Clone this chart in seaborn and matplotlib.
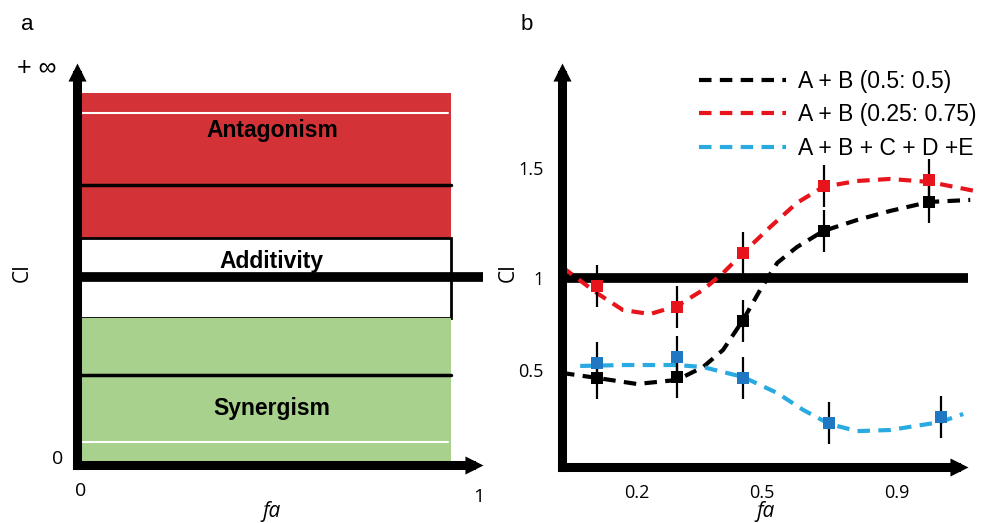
import numpy as np
import pandas as pd
import matplotlib.pyplot as plt
import seaborn as sns

# ---- panel a: CI zones (y in 0..1 schematic units, top = +inf)
zone_names = ['Antagonism', 'Additivity', 'Synergism']
zone_bottom = [0.565, 0.366, 0.005]
zone_top = [0.925, 0.565, 0.366]
zone_colors = ['#d33336', 'white', '#a8d18d']
zone_label_y = [0.833, 0.505, 0.14]
zone_right = 0.92
white_lines = [0.876, 0.057]
black_lines = [0.697, 0.224]
additive_line = 0.468

# ---- panel b: CI vs fa
series = ['A + B (0.5: 0.5)', 'A + B (0.25: 0.75)', 'A + B + C + D +E']
line_colors = ['black', '#e8141c', '#29abe2']
marker_colors = ['black', '#e8141c', '#1f78c1']

pt_fa = [[0.094, 0.31, 0.488, 0.706, 0.989],
         [0.094, 0.31, 0.488, 0.706, 0.989],
         [0.094, 0.31, 0.488, 0.72, 1.02]]
pt_ci = [[0.457, 0.462, 0.766, 1.255, 1.413],
         [0.957, 0.842, 1.136, 1.50, 1.533],
         [0.538, 0.571, 0.457, 0.212, 0.245]]
pt_err = 0.115

curve_fa = [[0, 0.094, 0.202, 0.31, 0.38, 0.434, 0.488, 0.534, 0.58, 0.633, 0.704, 0.795, 0.884, 0.989, 1.1],
            [0, 0.094, 0.164, 0.237, 0.31, 0.38, 0.434, 0.488, 0.561, 0.633, 0.704, 0.795, 0.884, 0.989, 1.127],
            [0.049, 0.164, 0.31, 0.38, 0.488, 0.58, 0.65, 0.72, 0.795, 0.884, 1.019, 1.081]]
curve_ci = [[0.484, 0.457, 0.424, 0.446, 0.516, 0.609, 0.772, 0.935, 1.082, 1.168, 1.255, 1.315, 1.364, 1.413, 1.424],
            [1.06, 0.918, 0.826, 0.804, 0.848, 0.935, 1.027, 1.136, 1.277, 1.408, 1.495, 1.527, 1.538, 1.522, 1.467],
            [0.522, 0.527, 0.527, 0.516, 0.462, 0.375, 0.283, 0.207, 0.168, 0.174, 0.217, 0.261]]

xtick_pos = [0.202, 0.539, 0.903]
xtick_labels = ['0.2', '0.5', '0.9']
ytick_pos = [0.5, 1.0, 1.6]
ytick_labels = ['0.5', '1', '1.5']

sns.set_style('white')
plt.rcParams['font.family'] = ['Liberation Sans', 'DejaVu Sans']
plt.rcParams['text.color'] = 'black'
plt.rcParams['xtick.color'] = 'black'
plt.rcParams['ytick.color'] = 'black'

W, H = 981, 523
fig = plt.figure(figsize=(W / 100, H / 100), dpi=100)


def px_axes(x0, y0, x1, y1):
    return fig.add_axes([x0 / W, 1 - y1 / H, (x1 - x0) / W, (y1 - y0) / H])


up_head = [(0, 0), (-0.5, -1), (0.5, -1)]
right_head = [(0, 0), (-1, 0.5), (-1, -0.5)]


def arrows(ax, lw=6.5):
    kw = dict(transform=ax.transAxes, clip_on=False, color='black', zorder=6)
    ax.plot([0, 0], [0, 0.97], lw=lw, solid_capstyle='projecting', **kw)
    ax.plot([0, 0.97], [0, 0], lw=lw, solid_capstyle='projecting', **kw)
    ax.plot([0], [1], marker=up_head, ms=26, mew=0, ls='none', **kw)
    ax.plot([1], [0], marker=right_head, ms=26, mew=0, ls='none', **kw)


# ---------------- panel a
axa = px_axes(77, 63, 483, 465)
axa.set_xlim(0, 1)
axa.set_ylim(0, 1)
axa.set_axis_off()
for name, b, t, c, ly in zip(zone_names, zone_bottom, zone_top, zone_colors, zone_label_y):
    axa.bar(0.005, t - b, bottom=b, width=zone_right - 0.005, align='edge', color=c,
            edgecolor='black' if c == 'white' else c, linewidth=2 if c == 'white' else 0)
    axa.text(zone_right / 2 + 0.02, ly, name, ha='center', va='center',
             fontsize=16.5, fontweight='bold')
for y in white_lines:
    axa.plot([0, zone_right - 0.005], [y, y], color='white', lw=1.5)
for y in black_lines:
    axa.plot([0.005, zone_right], [y, y], color='black', lw=2.5)
axa.plot([0, 1.0], [additive_line, additive_line], color='black', lw=7, clip_on=False,
         solid_capstyle='butt')
arrows(axa)
fig.text(27 / W, 1 - 25 / H, 'a', fontsize=16, ha='center', va='center')
fig.text(37 / W, 1 - 68 / H, '+ \u221e', fontsize=18, ha='center', va='center')
fig.text(58 / W, 1 - 459 / H, '0', fontsize=14, ha='center', va='center', family=['Open Sans'])
fig.text(81 / W, 1 - 491 / H, '0', fontsize=14, ha='center', va='center', family=['Open Sans'])
fig.text(479 / W, 1 - 497 / H, '1', fontsize=14, ha='center', va='center', family=['Open Sans'])
fig.text(272 / W, 1 - 511 / H, 'fa', fontsize=15, style='italic', ha='center', va='center',
         family=['Open Sans'])
fig.text(22 / W, 1 - 273 / H, 'CI', fontsize=15, rotation=90, ha='center', va='center',
         family=['Open Sans'])

# ---------------- panel b
axb = px_axes(562, 63, 968, 467)
axb.set_xlim(0, 1.094)
axb.set_ylim(-0.027, 2.168)
for name, fa, ci, lc in zip(series, curve_fa, curve_ci, line_colors):
    df = pd.DataFrame({'fa': fa, 'CI': ci})
    sns.lineplot(data=df, x='fa', y='CI', ax=axb, color=lc, lw=3, label=name,
                 dashes=False)
for line in axb.get_lines():
    line.set_dashes((3, 2))
    line.set_clip_on(False)
axb.plot([0, 1.094], [1, 1], color='black', lw=7, solid_capstyle='butt', zorder=1)
for fa, ci, mc in zip(pt_fa, pt_ci, marker_colors):
    axb.errorbar(fa, ci, yerr=pt_err, fmt='none', ecolor='black', elinewidth=1.6, zorder=4)
    sns.scatterplot(x=fa, y=ci, ax=axb, marker='s', s=80, color=mc, linewidth=0, zorder=5)
axb.set_xticks(xtick_pos, xtick_labels, family='Open Sans')
axb.set_yticks(ytick_pos, ytick_labels, family='Open Sans')
axb.tick_params(length=0, labelsize=13)
axb.tick_params(axis='y', pad=13)
axb.tick_params(axis='x', pad=12)
for s in axb.spines.values():
    s.set_visible(False)
axb.set_xlabel('')
axb.set_ylabel('')
arrows(axb)
leg = axb.legend(loc='upper left', bbox_to_anchor=(699 / W, 1 - 70 / H),
                 bbox_transform=fig.transFigure,
                 frameon=False, fontsize=16.5, handlelength=3.8, handletextpad=0.5,
                 labelspacing=0.45, borderpad=0, borderaxespad=0)
for h in leg.get_lines():
    h.set_dashes((3, 2))
fig.text(527 / W, 1 - 25 / H, 'b', fontsize=16, ha='center', va='center')
fig.text(765 / W, 1 - 512 / H, 'fa', fontsize=15, style='italic', ha='center', va='center',
         family=['Open Sans'])
fig.text(508 / W, 1 - 273 / H, 'CI', fontsize=15, rotation=90, ha='center', va='center',
         family=['Open Sans'])

fig.savefig('out.png', dpi=100)
